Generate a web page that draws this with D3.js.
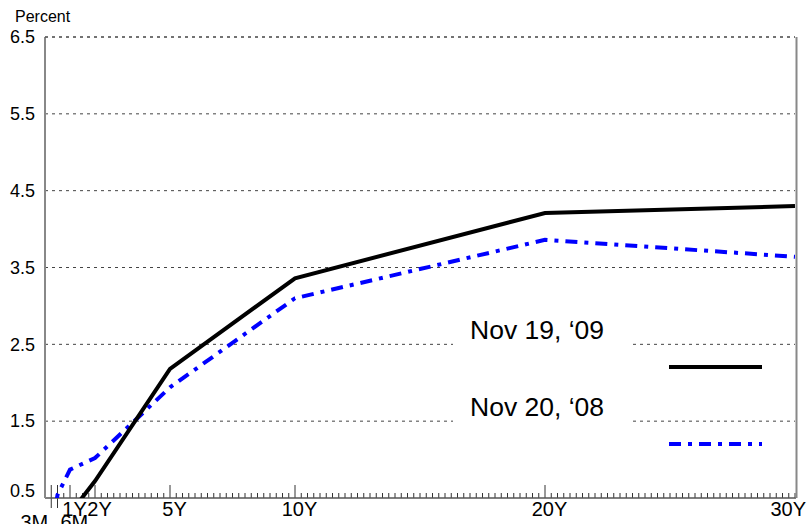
<!DOCTYPE html>
<html><head><meta charset="utf-8">
<script src="https://cdn.jsdelivr.net/npm/d3@7"></script>
<style>html,body{margin:0;padding:0;background:#fff;}svg{display:block;font-family:"Liberation Sans",Arial,sans-serif;}</style>
</head><body>
<svg id="c" width="809" height="524"></svg>
<script>
const tenorLabels = ["3M","6M","1Y","2Y","5Y","10Y","20Y","30Y"];
const tenorYears = [0.25,0.5,1,2,5,10,20,30];
const nov2009 = [0.05,0.16,0.30,0.72,2.18,3.36,4.21,4.30];
const nov2008 = [0.02,0.54,0.87,1.02,1.94,3.10,3.86,3.64];
const yTicks = [0.5,1.5,2.5,3.5,4.5,5.5,6.5];
const seriesNames = ["Nov 19, \u201809","Nov 20, \u201808"];

const svg = d3.select("#c");
const x = d3.scaleLinear().domain([0,30]).range([45,795]);
const y = d3.scaleLinear().domain([0.5,6.5]).range([498,37]);

// gridlines
svg.append("g").selectAll("line").data(yTicks.slice(1)).join("line")
  .attr("x1",x(0)).attr("x2",x(30)).attr("y1",d=>y(d)).attr("y2",d=>y(d))
  .attr("stroke","#444").attr("stroke-width",1).attr("stroke-dasharray","3,4");

// y labels
svg.append("g").selectAll("text").data(yTicks).join("text")
  .attr("x",35).attr("y",d=>y(d)-(d===0.5?7:0)).attr("dy","0.35em")
  .attr("text-anchor","end").attr("font-size",18).text(d=>d.toFixed(1));
svg.append("text").attr("x",15).attr("y",22).attr("font-size",16).text("Percent");

// clip
svg.append("clipPath").attr("id","clip").append("rect")
  .attr("x",x(0)).attr("y",y(6.5)).attr("width",x(30)-x(0)).attr("height",y(0.5)-y(6.5));

// minor ticks
const minor = d3.range(0,30.001,0.25);
svg.append("g").selectAll("line").data(minor).join("line")
  .attr("x1",d=>x(d)).attr("x2",d=>x(d)).attr("y1",y(0.5))
  .attr("y2",d=>{
    if (d===0.25||d===0.5) return y(0.5)-13;
    if ([1,2,5,10,20].includes(d)) return y(0.5)-13;
    return y(0.5)-5;})
  .attr("stroke","#333").attr("stroke-width",1);
// 3M/6M ticks extend below
svg.append("g").selectAll("line").data([0.25,0.5]).join("line")
  .attr("x1",d=>x(d)).attr("x2",d=>x(d)).attr("y1",y(0.5)).attr("y2",y(0.5)+10)
  .attr("stroke","#333").attr("stroke-width",1);

// axis lines
svg.append("line").attr("x1",x(0)).attr("x2",x(30)+1).attr("y1",y(0.5)).attr("y2",y(0.5))
  .attr("stroke","#555").attr("stroke-width",1.5);
svg.append("line").attr("x1",x(0)).attr("x2",x(0)).attr("y1",y(6.5)).attr("y2",y(0.5))
  .attr("stroke","#888").attr("stroke-width",2);
svg.append("line").attr("x1",x(30)+1.5).attr("x2",x(30)+1.5).attr("y1",y(6.5)).attr("y2",y(0.5))
  .attr("stroke","#888").attr("stroke-width",2);
// top dashed
svg.append("line").attr("x1",x(0)).attr("x2",x(30)).attr("y1",y(6.5)).attr("y2",y(6.5))
  .attr("stroke","#444").attr("stroke-width",1).attr("stroke-dasharray","3,4");

// x labels
tenorLabels.forEach((lab,i)=>{
  const t = tenorYears[i];
  const el = svg.append("text").attr("font-size",20).text(lab);
  if (lab==="3M") el.attr("x",x(t)-3).attr("y",529).attr("text-anchor","end");
  else if (lab==="6M") el.attr("x",x(t)+3).attr("y",529).attr("text-anchor","start");
  else if (lab==="30Y") el.attr("x",806).attr("y",516).attr("text-anchor","end");
  else el.attr("x",x(t)+4.5).attr("y",516).attr("text-anchor","middle");
});

// lines
const line = d3.line().x((d,i)=>x(tenorYears[i])).y(d=>y(d));
const g = svg.append("g").attr("clip-path","url(#clip)");
g.append("path").datum(nov2008).attr("d",line).attr("fill","none")
  .attr("stroke","#0000ff").attr("stroke-width",4).attr("stroke-dasharray","12,7,4,7");
g.append("path").datum(nov2009).attr("d",line).attr("fill","none")
  .attr("stroke","#000").attr("stroke-width",4);

// legend
const legY = [339,416];
seriesNames.forEach((nm,i)=>{
  svg.append("rect").attr("x",453).attr("y",legY[i]-27).attr("width",180).attr("height",37).attr("fill","#fff");
  svg.append("text").attr("x",470).attr("y",legY[i]).attr("font-size",26.5).text(nm);
});
svg.append("line").attr("x1",669).attr("x2",762).attr("y1",367).attr("y2",367)
  .attr("stroke","#000").attr("stroke-width",4);
svg.append("line").attr("x1",669).attr("x2",762).attr("y1",444).attr("y2",444)
  .attr("stroke","#0000ff").attr("stroke-width",4).attr("stroke-dasharray","12,7,4,7");
</script>
</body></html>
